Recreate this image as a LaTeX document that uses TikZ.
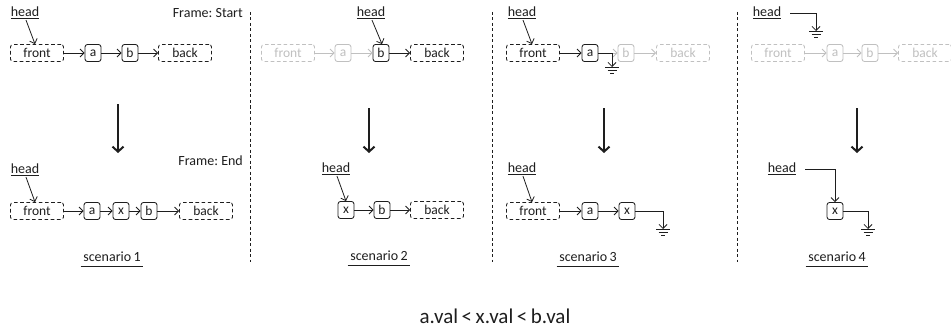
\documentclass[tikz,border=0pt]{standalone}
\usepackage{fontspec}
\setmainfont{Carlito}
\usetikzlibrary{arrows.meta}
\definecolor{ink}{RGB}{30,30,30}
\definecolor{fade}{RGB}{192,192,192}
\frenchspacing
\tikzset{
  lbl/.style={font=\fontsize{14}{15}\selectfont, text=ink, inner sep=1pt},
  cell/.style={draw=ink, text=ink, font=\fontsize{13.5}{14}\selectfont,
    rounded corners=2.5pt, minimum width=16pt, minimum height=17pt,
    inner sep=0pt, line width=0.85pt},
  endcell/.style={cell, dash pattern=on 3.6pt off 2.6pt, minimum width=53pt},
  faded/.style={draw=fade, text=fade},
  link/.style={draw=ink, line width=0.8pt, -{Straight Barb[length=4pt,width=8pt]}},
  fadelink/.style={link, draw=fade},
  flow/.style={draw=ink, line width=2pt, -{Straight Barb[length=5pt,width=11pt]}},
  divider/.style={draw=ink, line width=0.8pt, dash pattern=on 3pt off 2.5pt},
  gnd/.pic={\draw[ink, line width=0.85pt] (-7,0)--(7,0) (-4.5,3)--(4.5,3) (-2,6)--(2,6);}
}
\begin{document}
\begin{tikzpicture}[x=1pt, y=-1pt]
\useasboundingbox (0,0) rectangle (951,329);
\fill[white] (0,0) rectangle (951,329);

% column dividers
\coordinate (v1t) at (250,12); \coordinate (v1b) at (250,262);
\coordinate (v2t) at (492,12); \coordinate (v2b) at (492,262);
\coordinate (v3t) at (737,12); \coordinate (v3b) at (737,262);
\draw[divider] (v1t) -- (v1b);
\draw[divider] (v2t) -- (v2b);
\draw[divider] (v3t) -- (v3b);

% ---------- scenario 1 ----------
\node[lbl] (h1) at (25,13) {\underline{head}};
\node[lbl, anchor=east] (fs) at (244,13) {Frame: Start};
\node[endcell] (f1) at (37,53) {front};
\node[cell] (a1) at (93,53) {a};
\node[cell] (b1) at (130,53) {b};
\node[endcell] (k1) at (185,53) {back};
\draw[link] (f1) -- (a1);
\draw[link] (a1) -- (b1);
\draw[link] (b1) -- (k1);
\draw[link] ([xshift=1pt]h1.south) -- ([xshift=-2pt]f1.north);

\coordinate (d1s) at (118,104); \coordinate (d1e) at (118,153);
\draw[flow] (d1s) -- (d1e);

\node[lbl] (h1e) at (25,170) {\underline{head}};
\node[lbl, anchor=east] (fe) at (244,161) {Frame: End};
\node[endcell] (f1e) at (37,211) {front};
\node[cell] (a1e) at (92,211) {a};
\node[cell] (x1e) at (121,211) {x};
\node[cell] (b1e) at (149,211) {b};
\node[endcell] (k1e) at (206,211) {back};
\draw[link] (f1e) -- (a1e);
\draw[link] (a1e) -- (x1e);
\draw[link] (x1e) -- (b1e);
\draw[link] (b1e) -- (k1e);
\draw[link] ([xshift=1pt]h1e.south) -- ([xshift=-2pt]f1e.north);

\node[lbl, inner xsep=2.5pt] (s1) at (112,257) {scenario\,1};
\draw[ink, line width=0.8pt] ([yshift=-3pt]s1.south west) -- ([yshift=-3pt]s1.south east);

% ---------- scenario 2 ----------
\node[lbl] (h2) at (371,13) {\underline{head}};
\node[endcell, faded] (f2) at (288,53) {front};
\node[cell, faded] (a2) at (343,53) {a};
\node[cell] (b2) at (381,53) {b};
\node[endcell] (k2) at (437,53) {back};
\draw[fadelink] (f2) -- (a2);
\draw[fadelink] (a2) -- (b2);
\draw[link] (b2) -- (k2);
\draw[link] ([xshift=1pt]h2.south) -- ([xshift=1pt]b2.north);

\coordinate (d2s) at (369,108); \coordinate (d2e) at (369,153);
\draw[flow] (d2s) -- (d2e);

\node[lbl] (h2e) at (336,169) {\underline{head}};
\node[cell] (x2e) at (346,210) {x};
\node[cell] (b2e) at (382,210) {b};
\node[endcell] (k2e) at (437,210) {back};
\draw[link] (x2e) -- (b2e);
\draw[link] (b2e) -- (k2e);
\draw[link] ([xshift=1pt]h2e.south) -- (x2e.north);

\node[lbl, inner xsep=2.5pt] (s2) at (379,256) {scenario\,2};
\draw[ink, line width=0.8pt] ([yshift=-3pt]s2.south west) -- ([yshift=-3pt]s2.south east);

% ---------- scenario 3 ----------
\node[lbl] (h3) at (522,13) {\underline{head}};
\node[endcell] (f3) at (533,53) {front};
\node[cell] (a3) at (590,53) {a};
\node[cell, faded] (b3) at (626,53) {b};
\node[endcell, faded] (k3) at (683,53) {back};
\draw[fadelink] (a3) -- (b3);
\draw[fadelink] (b3) -- (k3);
\draw[link] (f3) -- (a3);
\draw[link] ([xshift=1pt]h3.south) -- ([xshift=-1pt]f3.north);
\coordinate (g3) at (612,67);
\draw[link] (a3.east) -| (g3);
\pic at (g3) {gnd};

\coordinate (d3s) at (604,108); \coordinate (d3e) at (604,153);
\draw[flow] (d3s) -- (d3e);

\node[lbl] (h3e) at (522,169) {\underline{head}};
\node[endcell] (f3e) at (533,211) {front};
\node[cell] (a3e) at (590,211) {a};
\node[cell] (x3e) at (627,211) {x};
\draw[link] (f3e) -- (a3e);
\draw[link] (a3e) -- (x3e);
\draw[link] ([xshift=1pt]h3e.south) -- ([xshift=-1pt]f3e.north);
\coordinate (g3e) at (663,229);
\draw[link] (x3e.east) -| (g3e);
\pic at (g3e) {gnd};

\node[lbl, inner xsep=2.5pt] (s3) at (588,257) {scenario\,3};
\draw[ink, line width=0.8pt] ([yshift=-3pt]s3.south west) -- ([yshift=-3pt]s3.south east);

% ---------- scenario 4 ----------
\node[lbl] (h4) at (767,13) {\underline{head}};
\node[endcell, faded] (f4) at (778,53) {front};
\node[cell, faded] (a4) at (835,53) {a};
\node[cell, faded] (b4) at (870,53) {b};
\node[endcell, faded] (k4) at (925,53) {back};
\draw[fadelink] (f4) -- (a4);
\draw[fadelink] (a4) -- (b4);
\draw[fadelink] (b4) -- (k4);
\coordinate (g4) at (816,31);
\draw[link] ([xshift=8pt]h4.east) -| (g4);
\pic at (g4) {gnd};

\coordinate (d4s) at (857,108); \coordinate (d4e) at (857,153);
\draw[flow] (d4s) -- (d4e);

\node[lbl] (h4e) at (782,169) {\underline{head}};
\node[cell] (x4e) at (835,211) {x};
\draw[link] ([xshift=8pt]h4e.east) -| (x4e.north);
\coordinate (g4e) at (868,229);
\draw[link] (x4e.east) -| (g4e);
\pic at (g4e) {gnd};

\node[lbl, inner xsep=2.5pt] (s4) at (837,257) {scenario\,4};
\draw[ink, line width=0.8pt] ([yshift=-3pt]s4.south west) -- ([yshift=-3pt]s4.south east);

% ordering condition
\node[lbl, font=\fontsize{21}{24}\selectfont] (cond) at (495,316) {a.val\,<\,x.val\,<\,b.val};
\end{tikzpicture}
\end{document}
